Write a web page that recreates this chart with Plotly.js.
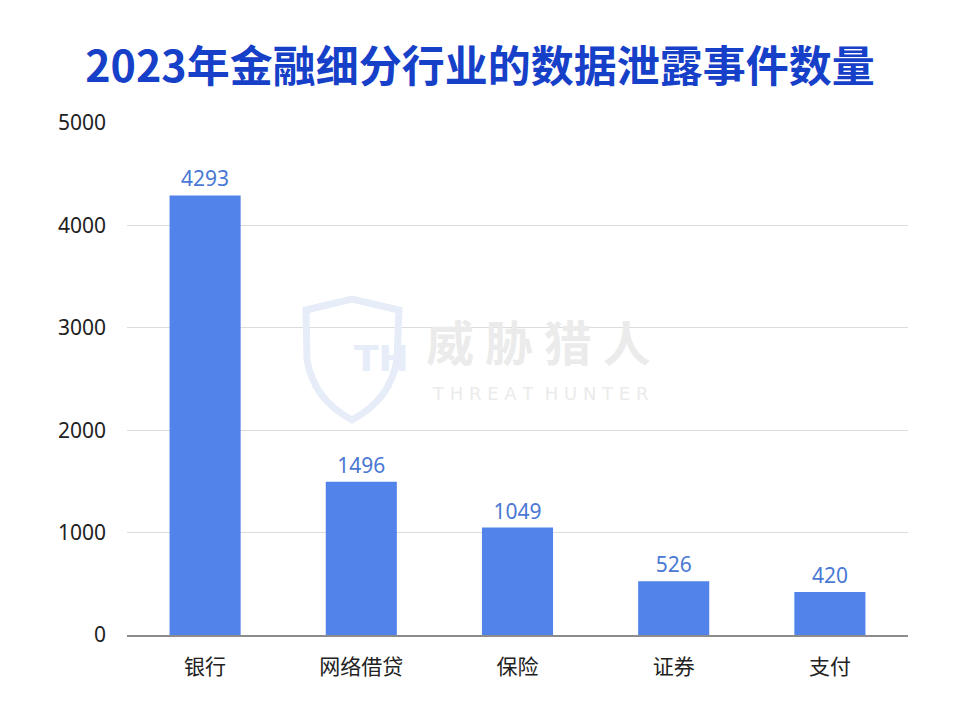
<!DOCTYPE html>
<html>
<head>
<meta charset="utf-8">
<script src="https://cdn.plot.ly/plotly-3.0.1.min.js"></script>
<style>html,body{margin:0;padding:0;background:#fff;}#chart{width:960px;height:720px;}</style>
</head>
<body>
<div id="chart"></div>
<script>
const categories = ["银行", "网络借贷", "保险", "证券", "支付"];
const values = [4293, 1496, 1049, 526, 420];
const yTicks = [0, 1000, 2000, 3000, 4000, 5000];

const L = 127, R = 908, T = 123, B = 635;
const px = x => (x - L) / (R - L);
const py = y => (B - y) / (B - T);

const shield = `M ${px(306)} ${py(310)} L ${px(352)} ${py(299)} L ${px(399)} ${py(310)} L ${px(397)} ${py(360)} Q ${px(390)} ${py(400)} ${px(352)} ${py(420)} Q ${px(314)} ${py(400)} ${px(307)} ${py(360)} Z`;

const trace = {
  type: "bar",
  x: categories,
  y: values,
  marker: {color: "#5283eb"},
  text: values.map(String),
  textposition: "outside",
  textfont: {family: "Noto Sans, Noto Sans CJK SC, sans-serif", size: 21, color: "#4a78d4"},
  cliponaxis: false,
  hoverinfo: "none"
};

const layout = {
  width: 960, height: 720,
  margin: {l: L, r: 960 - R, t: T, b: 720 - B},
  paper_bgcolor: "#ffffff", plot_bgcolor: "#ffffff",
  title: {
    text: "<b>2023年金融细分行业的数据泄露事件数量</b>",
    font: {family: "Noto Sans CJK SC, sans-serif", size: 43, color: "#1640c8"},
    x: 0.5, xanchor: "center", y: 0.907, yanchor: "middle"
  },
  bargap: 0.545,
  showlegend: false,
  xaxis: {
    type: "category",
    showgrid: false,
    showline: true, linecolor: "#8c8c8c", linewidth: 1.5,
    ticks: "", ticklabelstandoff: 12,
    tickfont: {family: "Noto Sans CJK SC, sans-serif", size: 21, color: "#222"}
  },
  yaxis: {
    range: [0, 5000],
    tickvals: yTicks,
    ticktext: yTicks.map(String),
    showgrid: true, gridcolor: "#dcdcdc", gridwidth: 1,
    zeroline: false, showline: false,
    ticks: "", ticklabelstandoff: 20,
    tickfont: {family: "Noto Sans, Noto Sans CJK SC, sans-serif", size: 21, color: "#222"}
  },
  shapes: [
    {type: "path", xref: "paper", yref: "paper", path: shield,
     line: {color: "#e6ecf8", width: 7}, fillcolor: "rgba(0,0,0,0)", layer: "above"}
  ],
  annotations: [
    {xref: "paper", yref: "paper", x: px(352), y: py(358), text: "<b>TH</b>", showarrow: false,
     font: {family: "DejaVu Sans, sans-serif", size: 36, color: "#e6ecf8"}},
    {xref: "paper", yref: "paper", x: px(538), y: py(340), text: "<b>威 胁 猎 人</b>", showarrow: false,
     font: {family: "Noto Sans CJK SC, sans-serif", size: 48, color: "#ebebeb"}},
    {xref: "paper", yref: "paper", x: px(540), y: py(393), text: "T H R E A T&nbsp;&nbsp;H U N T E R", showarrow: false,
     font: {family: "DejaVu Sans, sans-serif", size: 18, color: "#ebebeb"}}
  ]
};

Plotly.newPlot("chart", [trace], layout, {staticPlot: true, displayModeBar: false});
</script>
</body>
</html>
